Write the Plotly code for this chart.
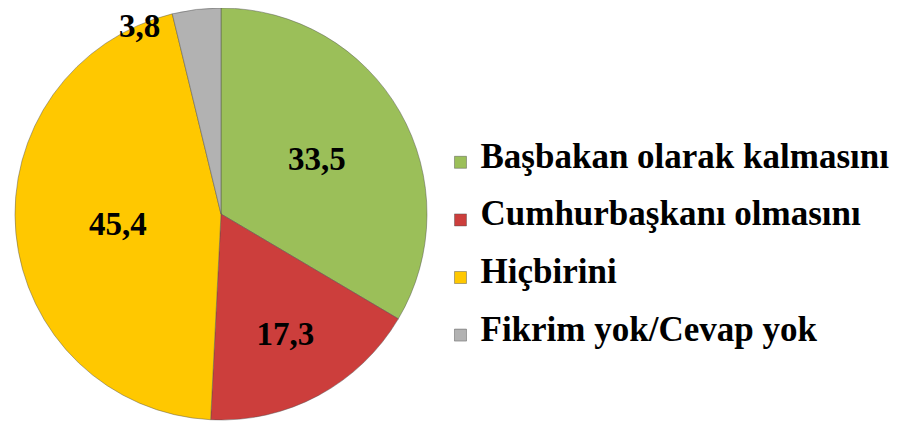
import plotly.graph_objects as go

FONT = "Liberation Serif"

labels = ["Başbakan olarak kalmasını", "Cumhurbaşkanı olmasını", "Hiçbirini", "Fikrim yok/Cevap yok"]
values = [33.5, 17.3, 45.4, 3.8]
colors = ["#9bbf59", "#cc3e3c", "#ffc800", "#b2b2b2"]

# comma decimal, as in the original
value_text = [f"{v:.1f}".replace(".", ",") for v in values]
# the tiny grey slice gets its label beside it, the others inside
inside_text = value_text[:3] + [""]

# blank lines above/below each legend label open up the vertical spacing
legend_labels = [f" <br><span style='font-size:35px'>{lab}</span><br> " for lab in labels]

fig = go.Figure()
fig.add_pie(
    labels=legend_labels,
    values=values,
    text=inside_text,
    textinfo="text",
    textposition="inside",
    textfont=dict(family=FONT, size=33, color="black", weight="bold"),
    insidetextorientation="horizontal",
    sort=False,
    direction="clockwise",
    rotation=0,
    marker=dict(colors=colors, line=dict(color="rgba(80,80,80,0.45)", width=1)),
    domain=dict(x=[0.0066, 0.4641], y=[0.0167, 1.0]),
    hoverinfo="skip",
)
fig.add_annotation(
    text=value_text[3], x=0.145, y=0.958, xref="paper", yref="paper",
    xanchor="center", yanchor="middle", showarrow=False,
    font=dict(family=FONT, size=33, color="black", weight="bold"),
)
# page body adds an 8px margin, so the figure is sized to the visible area
fig.update_layout(
    width=905,
    height=419,
    template="plotly_white",
    margin=dict(l=0, r=0, t=0, b=0),
    paper_bgcolor="white",
    legend=dict(
        x=0.4779, y=0.4248, xanchor="left", yanchor="middle",
        font=dict(family=FONT, size=14, color="black", weight="bold"),
    ),
)
fig.write_html("out.html")
